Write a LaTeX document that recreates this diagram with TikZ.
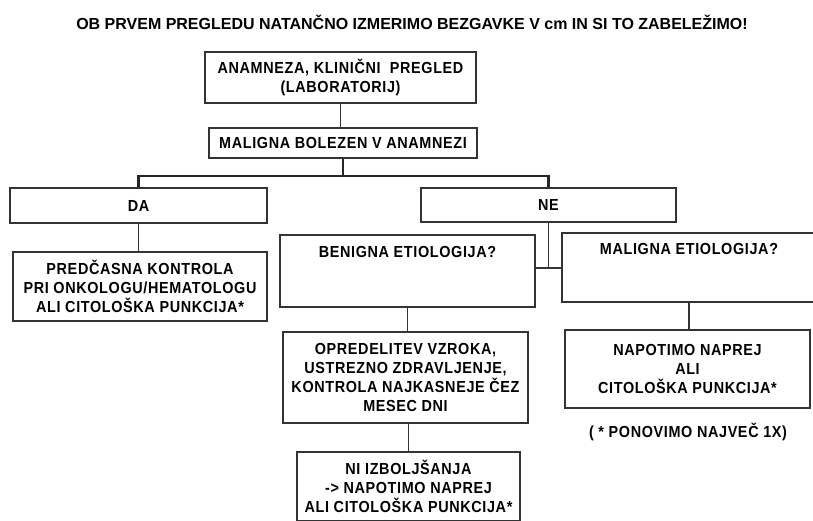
\documentclass[tikz,border=0pt]{standalone}
\usepackage{fontspec}
\setmainfont{Liberation Sans}
\newfontfamily\boxfont[LetterSpace=4,FakeStretch=0.9]{Liberation Sans}
\newfontfamily\titlefont{Liberation Sans}
\begin{document}
\begin{tikzpicture}[x=1pt,y=-1pt,
  box/.style={draw=black!80, line width=1.8pt, inner sep=0pt, align=center,
    font=\boxfont\bfseries\fontsize{16}{19}\selectfont},
  conn/.style={draw=black!80, line width=1.1pt},
  branch/.style={draw=black!85, line width=2.6pt, line join=miter},
  note/.style={inner sep=0pt, align=center, font=\boxfont\bfseries\fontsize{16}{19}\selectfont}]
\useasboundingbox (0,0) rectangle (813,520);
\node[note, font=\titlefont\bfseries\fontsize{16}{19}\selectfont] (title) at (412,22)
  {OB PRVEM PREGLEDU NATANČNO IZMERIMO BEZGAVKE V cm IN SI TO ZABELEŽIMO!};
\node[box, minimum width=271pt, minimum height=51pt] (anam) at (340.5,77.5)
  {ANAMNEZA, KLINIČNI\ \ PREGLED\\(LABORATORIJ)};
\node[box, minimum width=268pt, minimum height=30pt] (mal) at (343,143)
  {MALIGNA BOLEZEN V ANAMNEZI};
\node[box, minimum width=257pt, minimum height=35pt] (da) at (138.5,205.5) {DA};
\node[box, minimum width=255pt, minimum height=34pt] (ne) at (548.5,205) {NE};
\node[box, minimum width=254pt, minimum height=69pt] (pred) at (140,286.5)
  {PREDČASNA KONTROLA\\PRI ONKOLOGU/HEMATOLOGU\\ALI CITOLOŠKA PUNKCIJA*};
\node[box, minimum width=255pt, minimum height=72pt] (ben) at (407.5,271)
  {BENIGNA ETIOLOGIJA?\\~\\~};
\node[box, minimum width=254pt, minimum height=69pt] (met) at (689,267.5)
  {MALIGNA ETIOLOGIJA?\\~\\~};
\node[box, minimum width=245pt, minimum height=91pt] (opr) at (405.5,377.5)
  {OPREDELITEV VZROKA,\\USTREZNO ZDRAVLJENJE,\\KONTROLA NAJKASNEJE ČEZ\\MESEC DNI};
\node[box, minimum width=223pt, minimum height=69pt] (ni) at (408.5,486.5)
  {NI IZBOLJŠANJA\\-> NAPOTIMO NAPREJ\\ALI CITOLOŠKA PUNKCIJA*};
\node[box, minimum width=245pt, minimum height=78pt] (nap) at (687.5,369)
  {NAPOTIMO NAPREJ\\ALI\\CITOLOŠKA PUNKCIJA*};
\node[note] (pon) at (688,432) {( * PONOVIMO NAJVEČ 1X)};
% connectors
\draw[conn] (anam.south) -- (anam.south |- mal.north);
\coordinate (br) at (343,176);
\draw[branch] (mal.south) -- (mal.south |- br);
\draw[branch] (da.north) |- (ne.north |- br) -- (ne.north);
\draw[conn] (da.south) -- (da.south |- pred.north);
\coordinate (j) at (548.5,268);
\draw[conn] (ne.south) -- (j);
\draw[conn] (ben.east |- j) -- (met.west |- j);
\draw[conn] (ben.south) -- (ben.south |- opr.north);
\draw[conn] (ni.north |- opr.south) -- (ni.north);
\draw[conn] (met.south) -- (met.south |- nap.north);
\end{tikzpicture}
\end{document}
